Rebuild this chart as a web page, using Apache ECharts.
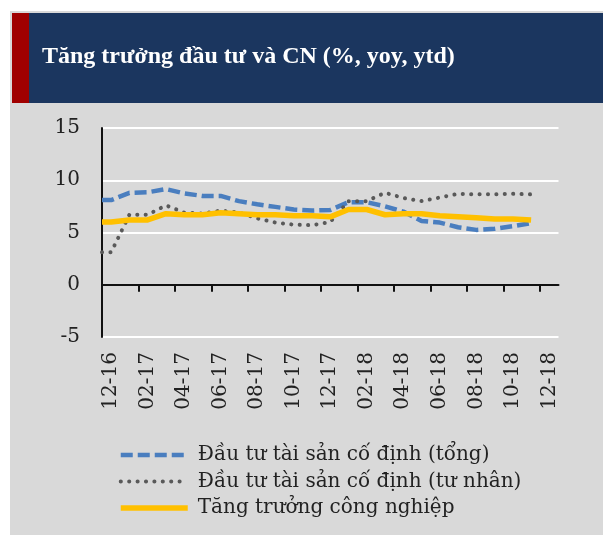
<!DOCTYPE html>
<html>
<head>
<meta charset="utf-8">
<script src="https://cdn.jsdelivr.net/npm/echarts@6/dist/echarts.min.js"></script>
<style>
  html, body { margin: 0; padding: 0; background: #fff; }
  #chart { width: 603px; height: 538px; }
</style>
</head>
<body>
<div id="chart"></div>
<script>
// months on the axis (12-16 .. 12-18)
const months = ['12-16', '01-17', '02-17', '03-17', '04-17', '05-17', '06-17', '07-17', '08-17',
  '09-17', '10-17', '11-17', '12-17', '01-18', '02-18', '03-18', '04-18', '05-18', '06-18',
  '07-18', '08-18', '09-18', '10-18', '11-18', '12-18']

// monthly values, 12-16 .. 11-18
const tongVals = [8.1, 8.8, 8.85, 9.15, 8.75, 8.5, 8.5, 8.0, 7.7, 7.45, 7.2, 7.1,
  7.15, 7.9, 7.9, 7.5, 7.0, 6.1, 5.95, 5.5, 5.25, 5.35, 5.6, 5.9]
const tuNhanVals = [3.1, 6.7, 6.7, 7.6, 6.9, 6.8, 7.1, 6.9, 6.35, 5.95, 5.75, 5.7,
  6.0, 8.0, 8.0, 8.8, 8.3, 8.0, 8.35, 8.7, 8.65, 8.65, 8.7, 8.65]
const congNghiepVals = [6.0, 6.2, 6.2, 6.8, 6.7, 6.7, 6.9, 6.8, 6.7, 6.7, 6.6, 6.6,
  6.5, 7.2, 7.2, 6.7, 6.8, 6.8, 6.6, 6.5, 6.4, 6.3, 6.3, 6.2]

const seriesNames = ['Đầu tư tài sản cố định (tổng)', 'Đầu tư tài sản cố định (tư nhân)', 'Tăng trưởng công nghiệp']
const yTicks = [-5, 0, 5, 10, 15]

const FONT = "'DejaVu Serif', 'Liberation Serif', serif"

// points sit mid-month; the line runs in from the axis start
function toPoints(vals) {
  return [[0, vals[0]]].concat(vals.map((v, i) => [i + 0.5, v]))
}

const tickVals = months.map((m, i) => i).filter(i => i % 2 === 0)
const labelVals = tickVals.map(i => i + 0.5)

const chart = echarts.init(document.getElementById('chart'))

const option = {
  animation: false,
  backgroundColor: '#ffffff',
  graphic: [
    { type: 'rect', shape: { x: 10, y: 11, width: 593, height: 524 }, style: { fill: '#d9d9d9' }, z: -10 },
    { type: 'rect', shape: { x: 12, y: 13, width: 591, height: 90 }, style: { fill: '#1b365f' }, z: -9 },
    { type: 'rect', shape: { x: 12, y: 13, width: 17, height: 90 }, style: { fill: '#a00000' }, z: -8 }
  ],
  title: {
    text: 'Tăng trưởng đầu tư và CN (%, yoy, ytd)',
    left: 42,
    top: 45,
    padding: 0,
    textStyle: {
      color: '#ffffff',
      fontFamily: "'Liberation Serif', serif",
      fontWeight: 'bold',
      fontSize: 24
    }
  },
  legend: {
    orient: 'vertical',
    left: 118,
    top: 445,
    itemWidth: 67,
    itemHeight: 12,
    itemGap: 6.5,
    padding: 0,
    data: seriesNames,
    itemStyle: { opacity: 0 },
    lineStyle: { width: 'inherit' },
    textStyle: {
      fontFamily: FONT,
      fontSize: 20,
      color: '#222',
      padding: [0, 0, 0, 5]
    }
  },
  grid: {
    left: 102,
    right: 44.5,
    top: 128,
    bottom: 201
  },
  xAxis: {
    type: 'value',
    min: 0,
    max: months.length,
    axisLine: { show: true, onZero: true, lineStyle: { color: '#111', width: 2 } },
    axisTick: {
      show: true,
      customValues: tickVals,
      length: 7,
      lineStyle: { color: '#111', width: 2 }
    },
    axisLabel: {
      customValues: labelVals,
      rotate: 90,
      margin: 15,
      fontFamily: FONT,
      fontSize: 20,
      color: '#222',
      formatter: v => months[Math.round(v - 0.5)] || ''
    },
    splitLine: { show: false }
  },
  yAxis: {
    type: 'value',
    min: yTicks[0],
    max: yTicks[yTicks.length - 1],
    interval: 5,
    axisLine: { show: true, lineStyle: { color: '#111', width: 2 } },
    axisTick: { show: false },
    axisLabel: {
      margin: 22,
      fontFamily: FONT,
      fontSize: 20,
      color: '#222'
    },
    splitLine: { lineStyle: { color: '#ffffff', width: 2 } }
  },
  series: [
    {
      name: seriesNames[0],
      type: 'line',
      symbol: 'none',
      data: toPoints(tongVals),
      lineStyle: { color: '#4a7ebf', width: 4.5, type: [12, 5] },
      itemStyle: { color: '#4a7ebf' }
    },
    {
      name: seriesNames[1],
      type: 'line',
      symbol: 'none',
      data: toPoints(tuNhanVals),
      lineStyle: { color: '#595959', width: 4, type: [0.1, 8.3], cap: 'round' },
      itemStyle: { color: '#595959' }
    },
    {
      name: seriesNames[2],
      type: 'line',
      symbol: 'none',
      data: toPoints(congNghiepVals),
      lineStyle: { color: '#ffc000', width: 5.5 },
      itemStyle: { color: '#ffc000' }
    }
  ]
}

chart.setOption(option)
</script>
</body>
</html>
